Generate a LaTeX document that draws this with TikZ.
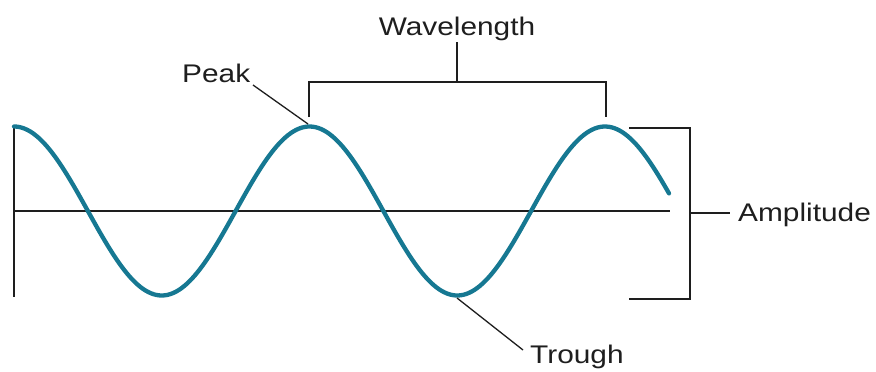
\documentclass[tikz,border=0pt]{standalone}
\usepackage{fontspec}
\setmainfont{Liberation Sans}[FakeStretch=1.17]
\definecolor{wave}{RGB}{22,120,146}
\definecolor{ink}{RGB}{30,30,30}
\begin{document}
\begin{tikzpicture}[x=1pt,y=-1pt,
  lbl/.style={inner sep=0pt,text=ink,font=\fontsize{25.5}{30}\selectfont},
  blk/.style={draw=ink,line width=2.3pt},
  lead/.style={draw=ink,line width=1.3pt}]
\useasboundingbox (0,0) rectangle (876,372);
% axes
\coordinate (ytop) at (14,127);
\coordinate (ybot) at (14,297);
\coordinate (xl) at (14,211);
\coordinate (xr) at (670,211);
\draw[blk] (ytop) -- (ybot);
\draw[blk] (xl) -- (xr);
% wave
\draw[wave,line width=4.3pt,line cap=round] plot[domain=14:669,samples=240,smooth] (\x,{211-84.5*cos(1.21827*(\x-14))});
% key points
\coordinate (pk) at (308,124);
\coordinate (tr) at (457,298);
% wavelength bracket
\node[lbl,anchor=base] (wl) at (457,35) {Wavelength};
\coordinate (wlL) at (309,117);
\coordinate (wlR) at (606,117);
\coordinate (wlM) at (457,82);
\draw[blk] (wlL) |- (wlM) -| (wlR);
\draw[blk] (wlM) -- (457,42);
% peak
\node[lbl,anchor=base west] (peak) at (182,82) {Peak};
\draw[lead] (253,85) -- (pk);
% trough
\node[lbl,anchor=base west] (trough) at (530,363) {Trough};
\draw[lead] (tr) -- (523,350);
% amplitude bracket
\node[lbl,anchor=base west] (amp) at (738,221) {Amplitude};
\coordinate (aT) at (629,128);
\coordinate (aB) at (629,299);
\coordinate (aM) at (690,213);
\coordinate (aE) at (730,213);
\draw[blk] (aT) -- (690,128) -- (690,299) -- (aB);
\draw[blk] (aM) -- (aE);
\end{tikzpicture}
\end{document}
